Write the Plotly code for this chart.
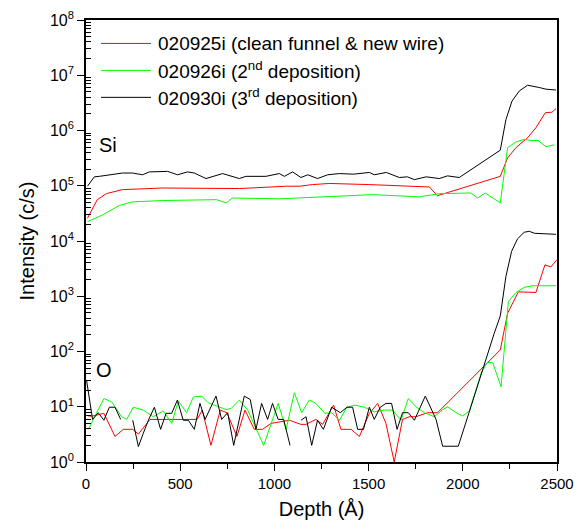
import plotly.graph_objects as go

# ---------------- data ----------------
# Si signals
si_925_depth = [8, 60, 108, 193, 405, 586, 814, 1063, 1133, 1202, 1292, 1504, 1823, 1865,
                2199, 2238, 2282, 2344, 2388, 2438, 2473, 2495]
si_925_val = [2.6e4, 5.6e4, 7.2e4, 8.5e4, 9.1e4, 9.1e4, 8.9e4, 9.8e4, 9.8e4, 1.05e5, 1.1e5,
              1.05e5, 9.5e4, 6.6e4, 1.48e5, 3.2e5, 4.9e5, 7.4e5, 1.12e6, 2.1e6, 2.14e6, 2.5e6]

si_926_depth = [8, 87, 177, 246, 405, 692, 745, 777, 1026, 1281, 1520, 1770, 1876, 2043,
                2079, 2119, 2158, 2199, 2238, 2282, 2326, 2362, 2400, 2441, 2486]
si_926_val = [2.24e4, 2.95e4, 4.4e4, 5.1e4, 5.4e4, 5.6e4, 4.9e4, 6.0e4, 5.8e4, 6.3e4, 6.9e4,
              6.3e4, 7.2e4, 7.4e4, 6.0e4, 7.4e4, 6.0e4, 4.9e4, 4.9e5, 6.2e5, 6.9e5, 6.6e5,
              6.6e5, 5.1e5, 5.5e5]

si_930_depth = [8, 44, 71, 141, 194, 247, 300, 336, 406, 433, 486, 539, 575, 637, 725, 814,
                849, 955, 1026, 1053, 1097, 1141, 1177, 1229, 1283, 1345, 1420, 1504, 1530,
                1594, 1663, 1706, 1743, 1806, 1875, 1919, 1981, 2199, 2229, 2261, 2300, 2344,
                2406, 2441, 2495]
si_930_val = [9.8e4, 1.45e5, 1.48e5, 1.58e5, 1.7e5, 1.7e5, 1.58e5, 1.78e5, 1.78e5, 1.82e5,
              1.58e5, 1.78e5, 1.7e5, 1.35e5, 1.66e5, 1.35e5, 1.48e5, 1.48e5, 1.66e5, 1.48e5,
              1.78e5, 1.41e5, 1.58e5, 1.35e5, 1.58e5, 1.66e5, 1.62e5, 1.74e5, 1.58e5, 1.74e5,
              1.41e5, 1.45e5, 1.29e5, 1.45e5, 1.35e5, 1.51e5, 1.41e5, 4.4e5, 1.58e6, 3.4e6,
              5.2e6, 6.6e6, 6.0e6, 5.6e6, 5.4e6]

# O signals
o_925_depth = [12, 35, 95, 154, 198, 248, 278, 340, 516, 590, 617, 663, 713, 748, 801, 844,
               893, 937, 982, 1020, 1079, 1141, 1168, 1220, 1256, 1314, 1353, 1407, 1451,
               1504, 1548, 1592, 1636, 1680, 1716, 1751, 1813, 1866, 2199, 2238, 2295, 2388,
               2436, 2468, 2500]
o_925_val = [6.8, 6.8, 7.6, 2.9, 3.9, 3.9, 3.2, 5.9, 5.9, 5.9, 8.7, 2.0, 8.7, 7.8, 2.9, 8.7,
             3.9, 3.9, 5.0, 5.3, 5.7, 4.8, 4.8, 5.9, 4.8, 10.7, 3.9, 3.9, 2.9, 7.6, 11.5, 5.0,
             1.0, 5.9, 6.6, 6.6, 7.8, 7.8, 107, 494, 1200, 1170, 3700, 3400, 4600]

o_926_depth = [12, 95, 136, 189, 216, 251, 304, 357, 410, 455, 490, 534, 570, 614, 649, 743,
               770, 814, 858, 897, 943, 1020, 1062, 1106, 1145, 1185, 1220, 1268, 1304, 1345,
               1385, 1428, 1477, 1530, 1583, 1627, 1672, 1711, 1751, 1796, 1849, 1893, 1920,
               1964, 1999, 2035, 2097, 2128, 2158, 2203, 2242, 2282, 2326, 2370, 2495]
o_926_val = [3.9, 14.1, 12.3, 6.6, 5.9, 9.8, 8.7, 6.6, 8.4, 5.0, 12.8, 7.8, 15.1, 15.6, 11.8,
             8.9, 9.3, 13.2, 8.7, 4.3, 2.0, 11.5, 3.9, 17.9, 7.8, 13.2, 11.5, 7.6, 7.8, 5.7,
             9.8, 10.7, 9.8, 8.1, 8.7, 8.7, 5.7, 14.1, 10.0, 7.8, 6.6, 8.9, 10.0, 7.8, 6.8,
             8.4, 40, 63, 64, 23, 800, 1170, 1450, 1550, 1550]

o_930_depth = [3, 35, 65, 95, 124, 154, 184, 215, 248, 278, 304, 331, 363, 396, 425, 455, 485,
               516, 543, 575, 605, 632, 690, 720, 752, 784, 840, 872, 902, 932, 964, 990, 1020,
               1049, 1083, 1112, 1141, 1168, 1198, 1229, 1260, 1304, 1350, 1385, 1415, 1442,
               1473, 1504, 1530, 1562, 1592, 1622, 1651, 1680, 1711, 1743, 1801, 1858, 1893,
               1928, 1976, 2043, 2114, 2167, 2199, 2229, 2259, 2291, 2326, 2353, 2380, 2433,
               2495]
o_930_val = [30, 5.9, 7.8, 5.7, 9.8, 9.8, 5.9, None, 5.7, 1.9, 3.3, 5.7, 9.8, 3.9, 7.6, 7.6,
             13.2, 5.7, 5.7, 3.9, 11.5, 5.9, 15.6, 5.9, 7.8, 2.0, 15.6, 13.5, 3.9, 11.5, 5.9,
             11.5, 5.9, 5.9, 2.0, None, 5.7, 6.6, 2.0, 5.7, 3.9, 9.8, 7.8, 9.8, 9.8, 3.9, 3.9,
             9.8, 5.9, 9.8, 11.5, 11.5, 3.9, 7.8, 7.8, 5.7, 15.6, 5.9, 1.93, 1.93, 1.93, 10,
             61, 214, 440, 2300, 6500, 1.1e4, 1.44e4, 1.5e4, 1.38e4, 1.35e4, 1.32e4]

series_names = ["020925i (clean funnel & new wire)",
                "020926i (2<sup>nd</sup> deposition)",
                "020930i (3<sup>rd</sup> deposition)"]
series_colors = ["#ff0000", "#00ff00", "#000000"]

y_exponents = [0, 1, 2, 3, 4, 5, 6, 7, 8]
y_tickvals = [10 ** e for e in y_exponents]
y_ticktext = ["10<sup>%d</sup>" % e for e in y_exponents]
y_minorvals = [m * 10 ** e for e in y_exponents[:-1] for m in range(2, 10)]

FONT = "Arial, Liberation Sans, sans-serif"

fig = go.Figure()
si_sets = [(si_925_depth, si_925_val), (si_926_depth, si_926_val), (si_930_depth, si_930_val)]
o_sets = [(o_925_depth, o_925_val), (o_926_depth, o_926_val), (o_930_depth, o_930_val)]
for i in range(3):
    for (d, v) in (si_sets[i], o_sets[i]):
        fig.add_trace(go.Scatter(x=d, y=v, mode="lines",
                                 line=dict(color=series_colors[i], width=1),
                                 showlegend=False, connectgaps=False, hoverinfo="skip"))

# manual legend (paper coordinates)
leg_y = [0.947, 0.886, 0.825]
for i in range(3):
    fig.add_shape(type="line", xref="paper", yref="paper", x0=0.032, x1=0.138,
                  y0=leg_y[i], y1=leg_y[i], line=dict(color=series_colors[i], width=1))
    fig.add_annotation(xref="paper", yref="paper", x=0.149, y=leg_y[i], text=series_names[i],
                       showarrow=False, xanchor="left", yanchor="middle",
                       font=dict(family=FONT, size=19, color="black"))

fig.add_annotation(x=118, y=5.73, text="Si", showarrow=False, xanchor="center", yanchor="middle",
                   font=dict(family=FONT, size=20, color="black"))
fig.add_annotation(x=95, y=1.66, text="O", showarrow=False, xanchor="center", yanchor="middle",
                   font=dict(family=FONT, size=20, color="black"))

fig.update_layout(
    width=579, height=526,
    margin=dict(l=86, r=22, t=20, b=64, autoexpand=False),
    paper_bgcolor="white", plot_bgcolor="white",
    font=dict(family=FONT, color="black"),
    showlegend=False,
)
fig.update_xaxes(
    range=[0, 2500], dtick=500, tick0=0, automargin=False,
    ticks="outside", ticklen=7, tickwidth=1.2, tickcolor="black",
    minor=dict(dtick=250, tick0=0, ticks="outside", ticklen=5, tickwidth=1.2, tickcolor="black"),
    showline=True, linecolor="black", linewidth=1.6, mirror=True,
    showgrid=False, zeroline=False,
    tickfont=dict(family=FONT, size=15, color="black"),
    title=dict(text="Depth (Å)", font=dict(family=FONT, size=20, color="black"), standoff=11),
)
fig.update_yaxes(
    type="log", range=[0, 8], automargin=False,
    tickmode="array", tickvals=y_tickvals, ticktext=y_ticktext,
    ticks="outside", ticklen=7, tickwidth=1.2, tickcolor="black",
    minor=dict(tickmode="array", tickvals=y_minorvals, ticks="inside", ticklen=5,
               tickwidth=1, tickcolor="black", showgrid=False),
    showline=True, linecolor="black", linewidth=1.6, mirror=True,
    showgrid=False, zeroline=False,
    tickfont=dict(family=FONT, size=16, color="black"),
    title=dict(text="Intensity (c/s)", font=dict(family=FONT, size=20, color="black"), standoff=10),
)

fig.write_html("out.html")
